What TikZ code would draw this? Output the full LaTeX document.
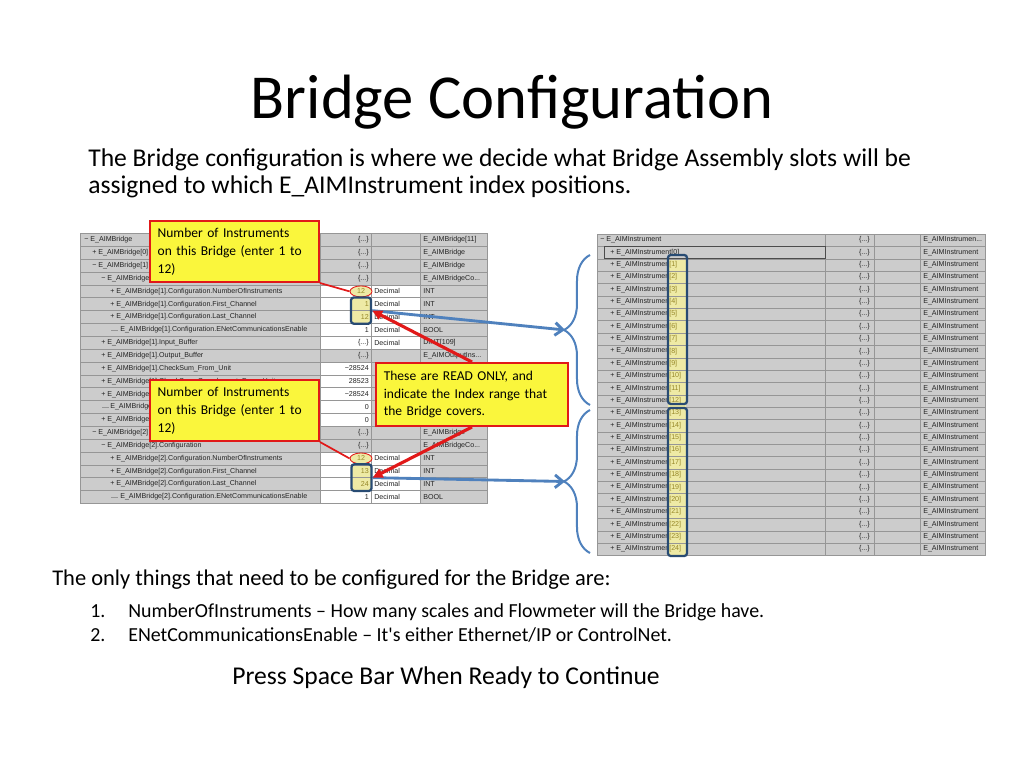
\documentclass[tikz,border=0pt]{standalone}
\usepackage{fontspec}
\setmainfont{Carlito}
\newfontfamily\gridfont{Liberation Sans}
\usepackage{tikz}
\usetikzlibrary{positioning}
\usetikzlibrary{arrows.meta}
\usetikzlibrary{shapes.geometric}
\usetikzlibrary{decorations.pathreplacing}

\definecolor{gridgrey}{RGB}{204,204,204}
\definecolor{gridline}{RGB}{150,150,150}
\definecolor{gridtext}{RGB}{35,35,35}
\definecolor{noteyellow}{RGB}{250,246,60}
\definecolor{notered}{RGB}{225,25,25}
\definecolor{markyellow}{RGB}{238,234,165}
\definecolor{markolive}{RGB}{150,135,40}
\definecolor{arrowblue}{RGB}{79,129,189}
\definecolor{boxblue}{RGB}{40,75,115}

\begin{document}
\begin{tikzpicture}
    [
    x=0.703125pt, y=-0.703125pt,
    cell/.style={font=\gridfont\fontsize{5}{6}\selectfont,text=gridtext,inner sep=0pt},
    leftcell/.style={cell,anchor=west},
    rightcell/.style={cell,anchor=east},
    oval/.style={ellipse,draw=notered,line width=0.6pt,fill=markyellow,cell,text=markolive,minimum width=15.5pt,minimum height=7.7pt},
    chanbox/.style={draw=boxblue,line width=1.6pt,rounded corners=2pt,minimum width=14.1pt},
    note/.style={draw=notered,line width=1.4pt,fill=noteyellow,anchor=north west,inner xsep=5.4pt,inner ysep=0pt,align=left,font=\fontsize{9.5}{12.5}\selectfont,text width=108pt,minimum height=42.9pt},
    bracket/.style={decorate,decoration={brace,amplitude=18.3pt},draw=arrowblue,line width=1.4pt},
    bluearrow/.style={draw=arrowblue,line width=2pt,-{Straight Barb[length=5.5pt,width=9pt]}},
    redarrow/.style={draw=notered,line width=2.2pt,-{Triangle[length=7pt,width=6.5pt]}},
    ]
    \useasboundingbox (0,0) rectangle (1024,768);
    \fill[white] (0,0) rectangle (1024,768);

    % slide texts
    \node (title) at (512,119) [anchor=base,inner sep=0pt,font=\fontsize{44}{52}\selectfont] {Bridge Configuration};
    \node (intro1) at (88,167) [anchor=base west,inner sep=0pt,font=\fontsize{18}{22}\selectfont] {The Bridge configuration is where we decide what Bridge Assembly slots will be};
    \node (intro2) at (88,194) [anchor=base west,inner sep=0pt,font=\fontsize{18}{22}\selectfont] {assigned to which E\_AIMInstrument index positions.};
    \node (only) at (52,585) [anchor=base west,inner sep=0pt,font=\fontsize{15.8}{19}\selectfont] {The only things that need to be configured for the Bridge are:};
    \node (num1) at (90,617) [anchor=base west,inner sep=0pt,font=\fontsize{14}{17}\selectfont] {1.};
    \node (item1) at (128,617) [anchor=base west,inner sep=0pt,font=\fontsize{14}{17}\selectfont] {NumberOfInstruments -- How many scales and Flowmeter will the Bridge have.};
    \node (num2) at (90,641) [anchor=base west,inner sep=0pt,font=\fontsize{14}{17}\selectfont] {2.};
    \node (item2) at (128,641) [anchor=base west,inner sep=0pt,font=\fontsize{14}{17}\selectfont] {ENetCommunicationsEnable -- It\textquotesingle s either Ethernet/IP or ControlNet.};
    \node (press) at (446,684) [anchor=base,inner sep=0pt,font=\fontsize{18}{22}\selectfont] {Press Space Bar When Ready to Continue};

    % left table
    \fill[gridgrey] (80,233.5) rectangle (487,503.35);
    \fill[white] (320,284.9) rectangle (420,349.15);
    \fill[white] (320,362) rectangle (371,426.25);
    \fill[white] (320,451.95) rectangle (420,503.35);
    \fill[markyellow] (351,297.75) rectangle (371,323.45);
    \fill[markyellow] (351,464.8) rectangle (371,490.5);
    \foreach \i in {1,...,20}
      \draw[gridline] (80,233.5+12.85*\i) -- (487,233.5+12.85*\i);
    \draw[gridline] (80,233.5) rectangle (487,503.35);
    \draw[gridline] (320,233.5) -- (320,503.35);
    \draw[gridline] (371,233.5) -- (371,503.35);
    \draw[gridline] (420,233.5) -- (420,503.35);
    \draw[gridline] (111,329.95) -- (118,329.95);
    \draw[gridline] (102,407.05) -- (109,407.05);
    \draw[gridline] (111,497) -- (118,497);

    \node (n1) at (84,240) [leftcell] {− E\_AIMBridge};
    \node (v1) at (369,240) [rightcell] {\{...\}};
    \node (t1) at (423,240) [leftcell] {E\_AIMBridge[11]};
    \node (n2) at (92,252.85) [leftcell] {+ E\_AIMBridge[0]};
    \node (v2) at (369,252.85) [rightcell] {\{...\}};
    \node (t2) at (423,252.85) [leftcell] {E\_AIMBridge};
    \node (n3) at (92,265.7) [leftcell] {− E\_AIMBridge[1]};
    \node (v3) at (369,265.7) [rightcell] {\{...\}};
    \node (t3) at (423,265.7) [leftcell] {E\_AIMBridge};
    \node (n4) at (101,278.55) [leftcell] {− E\_AIMBridge[1].Configuration};
    \node (v4) at (369,278.55) [rightcell] {\{...\}};
    \node (t4) at (423,278.55) [leftcell] {E\_AIMBridgeCo...};
    \node (n5) at (110,291.4) [leftcell] {+ E\_AIMBridge[1].Configuration.NumberOfInstruments};
    \node (f5) at (374,291.4) [leftcell] {Decimal};
    \node (t5) at (423,291.4) [leftcell] {INT};
    \node (n6) at (110,304.25) [leftcell] {+ E\_AIMBridge[1].Configuration.First\_Channel};
    \node (v6) at (369,304.25) [rightcell,text=markolive] {1};
    \node (f6) at (374,304.25) [leftcell] {Decimal};
    \node (t6) at (423,304.25) [leftcell] {INT};
    \node (n7) at (110,317.1) [leftcell] {+ E\_AIMBridge[1].Configuration.Last\_Channel};
    \node (v7) at (369,317.1) [rightcell,text=markolive] {12};
    \node (f7) at (374,317.1) [leftcell] {Decimal};
    \node (t7) at (423,317.1) [leftcell] {INT};
    \node (n8) at (120,329.95) [leftcell] {E\_AIMBridge[1].Configuration.ENetCommunicationsEnable};
    \node (v8) at (369,329.95) [rightcell] {1};
    \node (f8) at (374,329.95) [leftcell] {Decimal};
    \node (t8) at (423,329.95) [leftcell] {BOOL};
    \node (n9) at (101,342.8) [leftcell] {+ E\_AIMBridge[1].Input\_Buffer};
    \node (v9) at (369,342.8) [rightcell] {\{...\}};
    \node (f9) at (374,342.8) [leftcell] {Decimal};
    \node (t9) at (423,342.8) [leftcell] {DINT[109]};
    \node (n10) at (101,355.65) [leftcell] {+ E\_AIMBridge[1].Output\_Buffer};
    \node (v10) at (369,355.65) [rightcell] {\{...\}};
    \node (t10) at (423,355.65) [leftcell] {E\_AIMOutputIns...};
    \node (n11) at (101,368.5) [leftcell] {+ E\_AIMBridge[1].CheckSum\_From\_Unit};
    \node (v11) at (369,368.5) [rightcell] {−28524};
    \node (n12) at (101,381.35) [leftcell] {+ E\_AIMBridge[1].CheckSum\_Complement\_From\_Unit};
    \node (v12) at (369,381.35) [rightcell] {28523};
    \node (n13) at (101,394.2) [leftcell] {+ E\_AIMBridge[1]};
    \node (v13) at (369,394.2) [rightcell] {−28524};
    \node (n14) at (110,407.05) [leftcell] {E\_AIMBridge[1]};
    \node (v14) at (369,407.05) [rightcell] {0};
    \node (n15) at (101,419.9) [leftcell] {+ E\_AIMBridge[1].Checksum\_Failed\_Count};
    \node (v15) at (369,419.9) [rightcell] {0};
    \node (n16) at (92,432.75) [leftcell] {− E\_AIMBridge[2]};
    \node (v16) at (369,432.75) [rightcell] {\{...\}};
    \node (t16) at (423,432.75) [leftcell] {E\_AIMBridge};
    \node (n17) at (101,445.6) [leftcell] {− E\_AIMBridge[2].Configuration};
    \node (v17) at (369,445.6) [rightcell] {\{...\}};
    \node (t17) at (423,445.6) [leftcell] {E\_AIMBridgeCo...};
    \node (n18) at (110,458.45) [leftcell] {+ E\_AIMBridge[2].Configuration.NumberOfInstruments};
    \node (f18) at (374,458.45) [leftcell] {Decimal};
    \node (t18) at (423,458.45) [leftcell] {INT};
    \node (n19) at (110,471.3) [leftcell] {+ E\_AIMBridge[2].Configuration.First\_Channel};
    \node (v19) at (369,471.3) [rightcell,text=markolive] {13};
    \node (f19) at (374,471.3) [leftcell] {Decimal};
    \node (t19) at (423,471.3) [leftcell] {INT};
    \node (n20) at (110,484.15) [leftcell] {+ E\_AIMBridge[2].Configuration.Last\_Channel};
    \node (v20) at (369,484.15) [rightcell,text=markolive] {24};
    \node (f20) at (374,484.15) [leftcell] {Decimal};
    \node (t20) at (423,484.15) [leftcell] {INT};
    \node (n21) at (120,497) [leftcell] {E\_AIMBridge[2].Configuration.ENetCommunicationsEnable};
    \node (v21) at (369,497) [rightcell] {1};
    \node (f21) at (374,497) [leftcell] {Decimal};
    \node (t21) at (423,497) [leftcell] {BOOL};

    % right table
    \fill[gridgrey] (597,234.2) rectangle (985,555.5);
    \node (ins) at (600,240) [leftcell] {− E\_AIMInstrument};
    \node (insv) at (870,240) [rightcell] {\{...\}};
    \node (inst) at (923,240) [leftcell] {E\_AIMInstrumen...};
    \node (ins0) at (610,252.36) [leftcell] {+ E\_AIMInstrument[0]};
    \node (dot0) at (870,252.36) [rightcell] {\{...\}};
    \node (typ0) at (923,252.36) [leftcell] {E\_AIMInstrument};
    \foreach \k in {1,...,24} {
      \node (ins\k) at (610,252.36+12.36*\k) [leftcell] {+ E\_AIMInstrument};
      \fill[markyellow] (668,246.18+12.36*\k) rectangle (686,258.54+12.36*\k);
      \node (idx\k) at (669,252.36+12.36*\k) [leftcell,text=markolive] {[\k]};
      \node (dot\k) at (870,252.36+12.36*\k) [rightcell] {\{...\}};
      \node (typ\k) at (923,252.36+12.36*\k) [leftcell] {E\_AIMInstrument};
    }
    \foreach \i in {1,...,25}
      \draw[gridline] (597,234.2+12.36*\i) -- (985,234.2+12.36*\i);
    \draw[gridline] (597,234.2) rectangle (985,555.5);
    \draw[gridline] (825,234.2) -- (825,555.5);
    \draw[gridline] (874,234.2) -- (874,555.5);
    \draw[gridline] (920,234.2) -- (920,555.5);
    \draw[black!70] (604,246.6) rectangle (825,258.5);

    % marks on the tables
    \node (ell1) at (361,291.4) [oval] {12};
    \node (ell2) at (361,458.45) [oval] {12};
    \node (chan1) at (361,310.6) [chanbox,minimum height=18.5pt] {};
    \node (chan2) at (361.5,477.65) [chanbox,minimum height=18.8pt] {};
    \node (grp1) at (677.5,329.5) [chanbox,minimum width=13.4pt,minimum height=104.8pt] {};
    \node (grp2) at (677.5,482) [chanbox,minimum width=13.4pt,minimum height=104.1pt] {};

    % callouts
    \node (nrA) at (149,220) [note] {Number of Instruments\\on this Bridge (enter 1 to\\12)};
    \node (nrB) at (149,379) [note] {Number of Instruments\\on this Bridge (enter 1 to\\12)};
    \node (ro) at (375,362) [note,text width=124pt,inner xsep=5.5pt,minimum height=44.3pt] {These are READ ONLY, and\\indicate the Index range that\\the Bridge covers.};
    \draw [draw=notered,line width=1.2pt] (nrA.south east) -- (ell1.west);
    \draw [draw=notered,line width=1.2pt] (nrB.south east) -- (ell2.west);

    % braces and arrows
    \draw [bracket] (590,405) -- (590,255);
    \draw [bracket] (590,553) -- (590,410);
    \coordinate (tip1) at (565,330);
    \coordinate (tip2) at (565,481.5);
    \draw [bluearrow] (chan1.east) -- (tip1);
    \draw [bluearrow] (chan2.east) -- (tip2);
    \draw [redarrow] (ro.north) -- (chan1.east);
    \draw [redarrow] (ro.south) -- (chan2.east);
  \end{tikzpicture}
\end{document}
